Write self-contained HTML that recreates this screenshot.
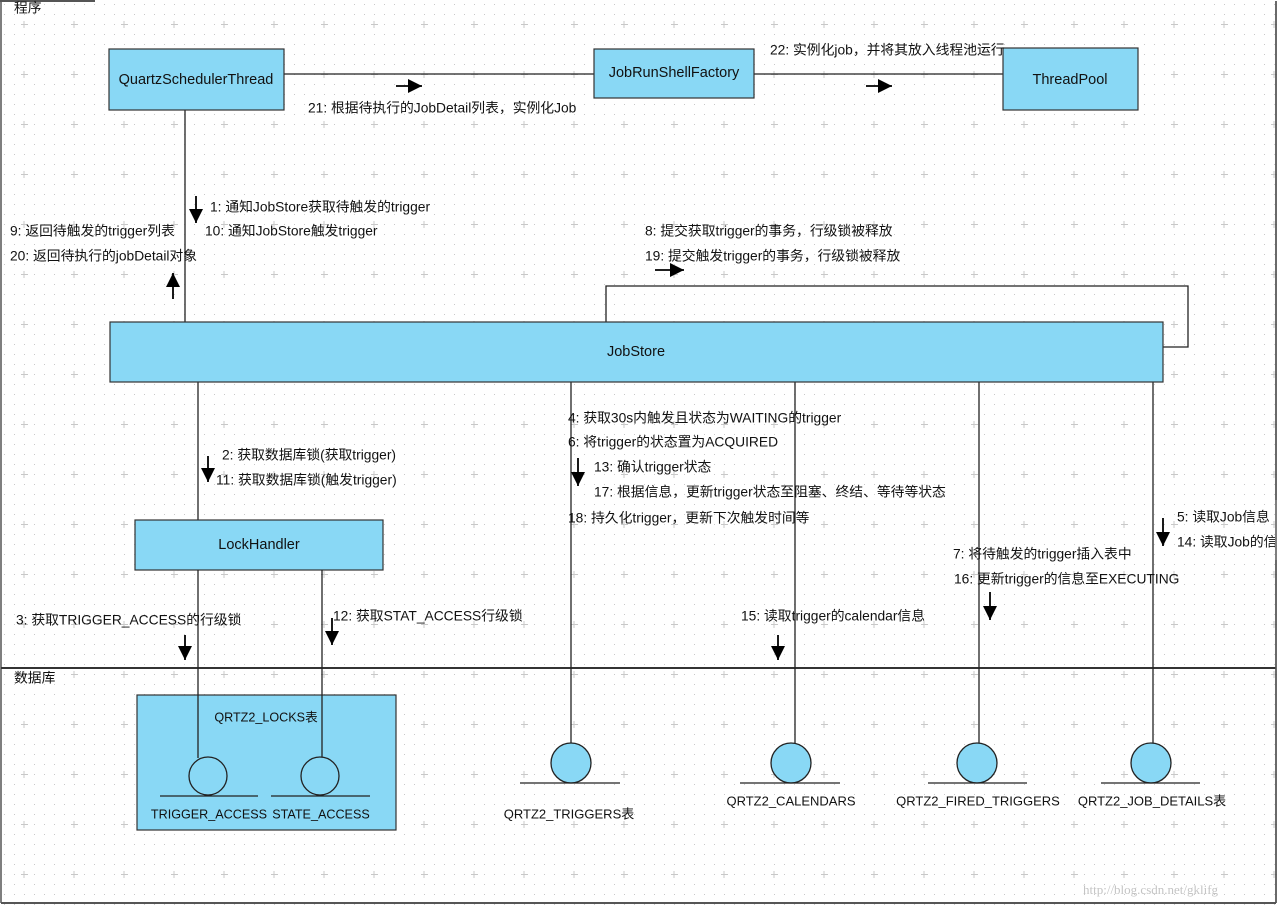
<!DOCTYPE html>
<html><head><meta charset="utf-8"><style>
html,body{margin:0;padding:0;background:#fff;}
svg{display:block;}
text{font-family:"Liberation Sans","Noto Sans CJK SC",sans-serif;font-size:13.8px;fill:#111;dominant-baseline:middle;}
.b{font-size:14.5px;}
.s{font-size:12.6px;}
.m{font-size:13px;}
</style></head><body>
<svg width="1277" height="906" viewBox="0 0 1277 906" xmlns="http://www.w3.org/2000/svg">
<defs>
<pattern id="dots" width="10" height="10" patternUnits="userSpaceOnUse"><rect x="4" y="4" width="1" height="1" fill="#c8c8c8"/></pattern>
<pattern id="cross" width="50" height="50" patternUnits="userSpaceOnUse"><path d="M24 21v7M21 24.5h7" stroke="#c8c8c8" stroke-width="1"/></pattern>
<marker id="ah" viewBox="0 0 10 10" refX="10" refY="5" markerWidth="14" markerHeight="14" markerUnits="userSpaceOnUse" orient="auto"><path d="M0 0L10 5L0 10z" fill="#000"/></marker>
</defs>
<rect width="1277" height="906" fill="#fff"/>
<rect width="1277" height="906" fill="url(#dots)"/>
<rect width="1277" height="906" fill="url(#cross)"/>
<g stroke="#555" fill="none">
<line x1="1" y1="1" x2="1" y2="903" stroke-width="1.5"/>
<line x1="1276" y1="1" x2="1276" y2="903" stroke-width="1.5"/>
<line x1="1" y1="903" x2="1276" y2="903" stroke-width="2"/>
<line x1="0" y1="1" x2="95" y2="1" stroke-width="2"/>
<line x1="1" y1="668" x2="1276" y2="668" stroke="#333" stroke-width="2"/>
</g>
<text x="14" y="9">程序</text>
<text x="14" y="679">数据库</text>

<g stroke="#222" stroke-width="1.3" fill="none">
<line x1="284" y1="74" x2="594" y2="74"/>
<line x1="754" y1="74" x2="1003" y2="74"/>
<line x1="185" y1="110" x2="185" y2="322"/>
<polyline points="606,322 606,286 1188,286 1188,347 1163,347"/>
<line x1="198" y1="382" x2="198" y2="520"/>
<line x1="571" y1="382" x2="571" y2="743"/>
<line x1="795" y1="382" x2="795" y2="743"/>
<line x1="979" y1="382" x2="979" y2="743"/>
<line x1="1153" y1="382" x2="1153" y2="743"/>
</g>

<g fill="#89d8f5" stroke="#333" stroke-width="1.2">
<rect x="109" y="49" width="175" height="61"/>
<rect x="594" y="49" width="160" height="49"/>
<rect x="1003" y="48" width="135" height="62"/>
<rect x="110" y="322" width="1053" height="60"/>
<rect x="135" y="520" width="248" height="50"/>
<rect x="137" y="695" width="259" height="135"/>
</g>
<g stroke="#222" stroke-width="1.3" fill="none">
<line x1="198" y1="570" x2="198" y2="758"/>
<line x1="322" y1="570" x2="322" y2="758"/>
</g>
<text class="b" x="196" y="80" text-anchor="middle">QuartzSchedulerThread</text>
<text class="b" x="674" y="73" text-anchor="middle">JobRunShellFactory</text>
<text class="b" x="1070" y="80" text-anchor="middle">ThreadPool</text>
<text class="b" x="636" y="352" text-anchor="middle">JobStore</text>
<text class="b" x="259" y="545" text-anchor="middle">LockHandler</text>
<text class="s" x="266" y="718" text-anchor="middle">QRTZ2_LOCKS表</text>

<g stroke="#222" stroke-width="1.3">
<circle cx="208" cy="776" r="19" fill="#89d8f5"/>
<circle cx="320" cy="776" r="19" fill="#89d8f5"/>
<line x1="160" y1="796" x2="258" y2="796"/>
<line x1="271" y1="796" x2="370" y2="796"/>
<circle cx="571" cy="763" r="20" fill="#89d8f5"/>
<line x1="520" y1="783" x2="620" y2="783"/>
<circle cx="791" cy="763" r="20" fill="#89d8f5"/>
<line x1="740" y1="783" x2="840" y2="783"/>
<circle cx="977" cy="763" r="20" fill="#89d8f5"/>
<line x1="928" y1="783" x2="1027" y2="783"/>
<circle cx="1151" cy="763" r="20" fill="#89d8f5"/>
<line x1="1101" y1="783" x2="1200" y2="783"/>
</g>
<text class="s" x="209" y="815" text-anchor="middle">TRIGGER_ACCESS</text>
<text class="s" x="321" y="815" text-anchor="middle">STATE_ACCESS</text>
<text class="m" x="569" y="815" text-anchor="middle">QRTZ2_TRIGGERS表</text>
<text class="m" x="791" y="802" text-anchor="middle">QRTZ2_CALENDARS</text>
<text class="m" x="978" y="802" text-anchor="middle">QRTZ2_FIRED_TRIGGERS</text>
<text class="m" x="1152" y="802" text-anchor="middle">QRTZ2_JOB_DETAILS表</text>

<g stroke="#000" stroke-width="1.8" marker-end="url(#ah)">
<line x1="396" y1="86" x2="422" y2="86"/>
<line x1="866" y1="86" x2="892" y2="86"/>
<line x1="196" y1="196" x2="196" y2="223"/>
<line x1="173" y1="299" x2="173" y2="273"/>
<line x1="655" y1="270" x2="684" y2="270"/>
<line x1="208" y1="456" x2="208" y2="482"/>
<line x1="185" y1="635" x2="185" y2="660"/>
<line x1="332" y1="618" x2="332" y2="645"/>
<line x1="578" y1="458" x2="578" y2="486"/>
<line x1="778" y1="635" x2="778" y2="660"/>
<line x1="990" y1="592" x2="990" y2="620"/>
<line x1="1163" y1="518" x2="1163" y2="546"/>
</g>

<text x="770" y="51">22: 实例化job，并将其放入线程池运行</text>
<text x="308" y="109">21: 根据待执行的JobDetail列表，实例化Job</text>
<text x="210" y="208">1: 通知JobStore获取待触发的trigger</text>
<text x="10" y="232">9: 返回待触发的trigger列表</text>
<text x="205" y="232">10: 通知JobStore触发trigger</text>
<text x="10" y="257">20: 返回待执行的jobDetail对象</text>
<text x="645" y="232">8: 提交获取trigger的事务，行级锁被释放</text>
<text x="645" y="257">19: 提交触发trigger的事务，行级锁被释放</text>
<text x="222" y="456">2: 获取数据库锁(获取trigger)</text>
<text x="216" y="481">11: 获取数据库锁(触发trigger)</text>
<text x="16" y="621">3: 获取TRIGGER_ACCESS的行级锁</text>
<text x="333" y="617">12: 获取STAT_ACCESS行级锁</text>
<text x="568" y="419">4: 获取30s内触发且状态为WAITING的trigger</text>
<text x="568" y="443">6: 将trigger的状态置为ACQUIRED</text>
<text x="594" y="468">13: 确认trigger状态</text>
<text x="594" y="493">17: 根据信息，更新trigger状态至阻塞、终结、等待等状态</text>
<text x="568" y="519">18: 持久化trigger，更新下次触发时间等</text>
<text x="1177" y="518">5: 读取Job信息</text>
<text x="1177" y="543">14: 读取Job的信息</text>
<text x="953" y="555">7: 将待触发的trigger插入表中</text>
<text x="954" y="580">16: 更新trigger的信息至EXECUTING</text>
<text x="741" y="617">15: 读取trigger的calendar信息</text>
<rect x="1275" y="500" width="2" height="60" fill="#fff"/>
<line x1="1276" y1="1" x2="1276" y2="903" stroke="#555" stroke-width="1.5"/>
<text x="1083" y="891" style="font-family:'Liberation Serif',serif;font-size:13px;fill:#c4c4c4">http://blog.csdn.net/gklifg</text>
</svg>
</body></html>
